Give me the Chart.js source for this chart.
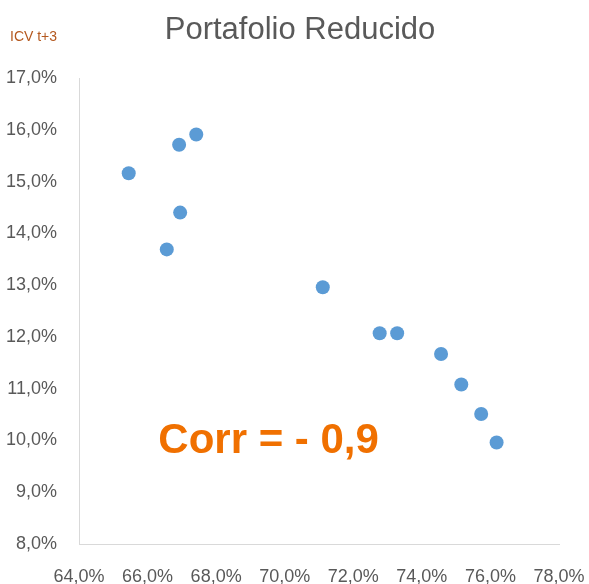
<!DOCTYPE html>
<html><head><meta charset="utf-8">
<script src="https://cdn.jsdelivr.net/npm/chart.js@4"></script>
<style>html,body{margin:0;padding:0;background:#fff}#wrap{width:589px;height:584px}</style>
</head><body><div id="wrap"><canvas id="c" width="589" height="584"></canvas></div>
<script>
const chartTitle = "Portafolio Reducido";
const yAxisTitle = "ICV t+3";
const annotationText = "Corr = - 0,9";
const xValues = [65.45, 66.92, 67.42, 66.95, 66.56, 71.11, 72.77, 73.28, 74.56, 75.15, 75.73, 76.18];
const yValues = [15.16, 15.71, 15.91, 14.40, 13.69, 12.96, 12.07, 12.07, 11.67, 11.08, 10.51, 9.96];
const xTicks = [64, 66, 68, 70, 72, 74, 76, 78];
const yTicks = [8, 9, 10, 11, 12, 13, 14, 15, 16, 17];
const annotationAt = {x: 69.53, y: 9.76};

const points = xValues.map((x, i) => ({x: x, y: yValues[i]}));
const fmt = v => v.toFixed(1).replace('.', ',') + '%';

const textPlugin = {
  id: 'texts',
  afterDraw(chart) {
    const ctx = chart.ctx;
    ctx.save();
    ctx.fillStyle = '#595959';
    ctx.font = '31px "Liberation Sans", Arial, sans-serif';
    ctx.textAlign = 'center';
    ctx.textBaseline = 'middle';
    ctx.fillText(chartTitle, 300, 30);
    ctx.fillStyle = '#B4581E';
    ctx.font = '14px "Liberation Sans", Arial, sans-serif';
    ctx.textAlign = 'left';
    ctx.fillText(yAxisTitle, 10, 37);
    const xs = chart.scales.x, ys = chart.scales.y;
    ctx.fillStyle = '#F07000';
    ctx.font = 'bold 42px "Liberation Sans", Arial, sans-serif';
    ctx.textAlign = 'center';
    ctx.textBaseline = 'alphabetic';
    ctx.fillText(annotationText, xs.getPixelForValue(annotationAt.x), ys.getPixelForValue(annotationAt.y));
    ctx.restore();
  }
};

new Chart(document.getElementById('c'), {
  type: 'scatter',
  data: { datasets: [{ data: points, backgroundColor: '#5B9BD5', borderColor: '#5B9BD5', pointRadius: 7, pointHoverRadius: 7, borderWidth: 0 }] },
  options: {
    responsive: false, animation: false, devicePixelRatio: 1,
    layout: { padding: { top: 78, right: 30, left: 0, bottom: 0 } },
    plugins: { legend: { display: false }, tooltip: { enabled: false }, title: { display: false } },
    scales: {
      x: {
        type: 'linear', min: 64, max: 78,
        afterBuildTicks: s => { s.ticks = xTicks.map(v => ({value: v})); },
        afterFit: s => { s.height = 40; s.paddingLeft = 0; s.paddingRight = 0; },
        grid: { display: false, drawTicks: false },
        border: { display: true, color: '#D9D9D9', width: 1 },
        ticks: { color: '#595959', font: { family: '"Liberation Sans", Arial, sans-serif', size: 18 }, padding: 22, maxRotation: 0, autoSkip: false, callback: v => fmt(v) }
      },
      y: {
        type: 'linear', min: 8, max: 17,
        afterBuildTicks: s => { s.ticks = yTicks.map(v => ({value: v})); },
        afterFit: s => { s.width = 79; s.paddingTop = 0; s.paddingBottom = 0; },
        grid: { display: false, drawTicks: false },
        border: { display: true, color: '#D9D9D9', width: 1 },
        ticks: { color: '#595959', font: { family: '"Liberation Sans", Arial, sans-serif', size: 18 }, padding: 22, autoSkip: false, callback: v => fmt(v) }
      }
    }
  },
  plugins: [textPlugin]
});
</script></body></html>
